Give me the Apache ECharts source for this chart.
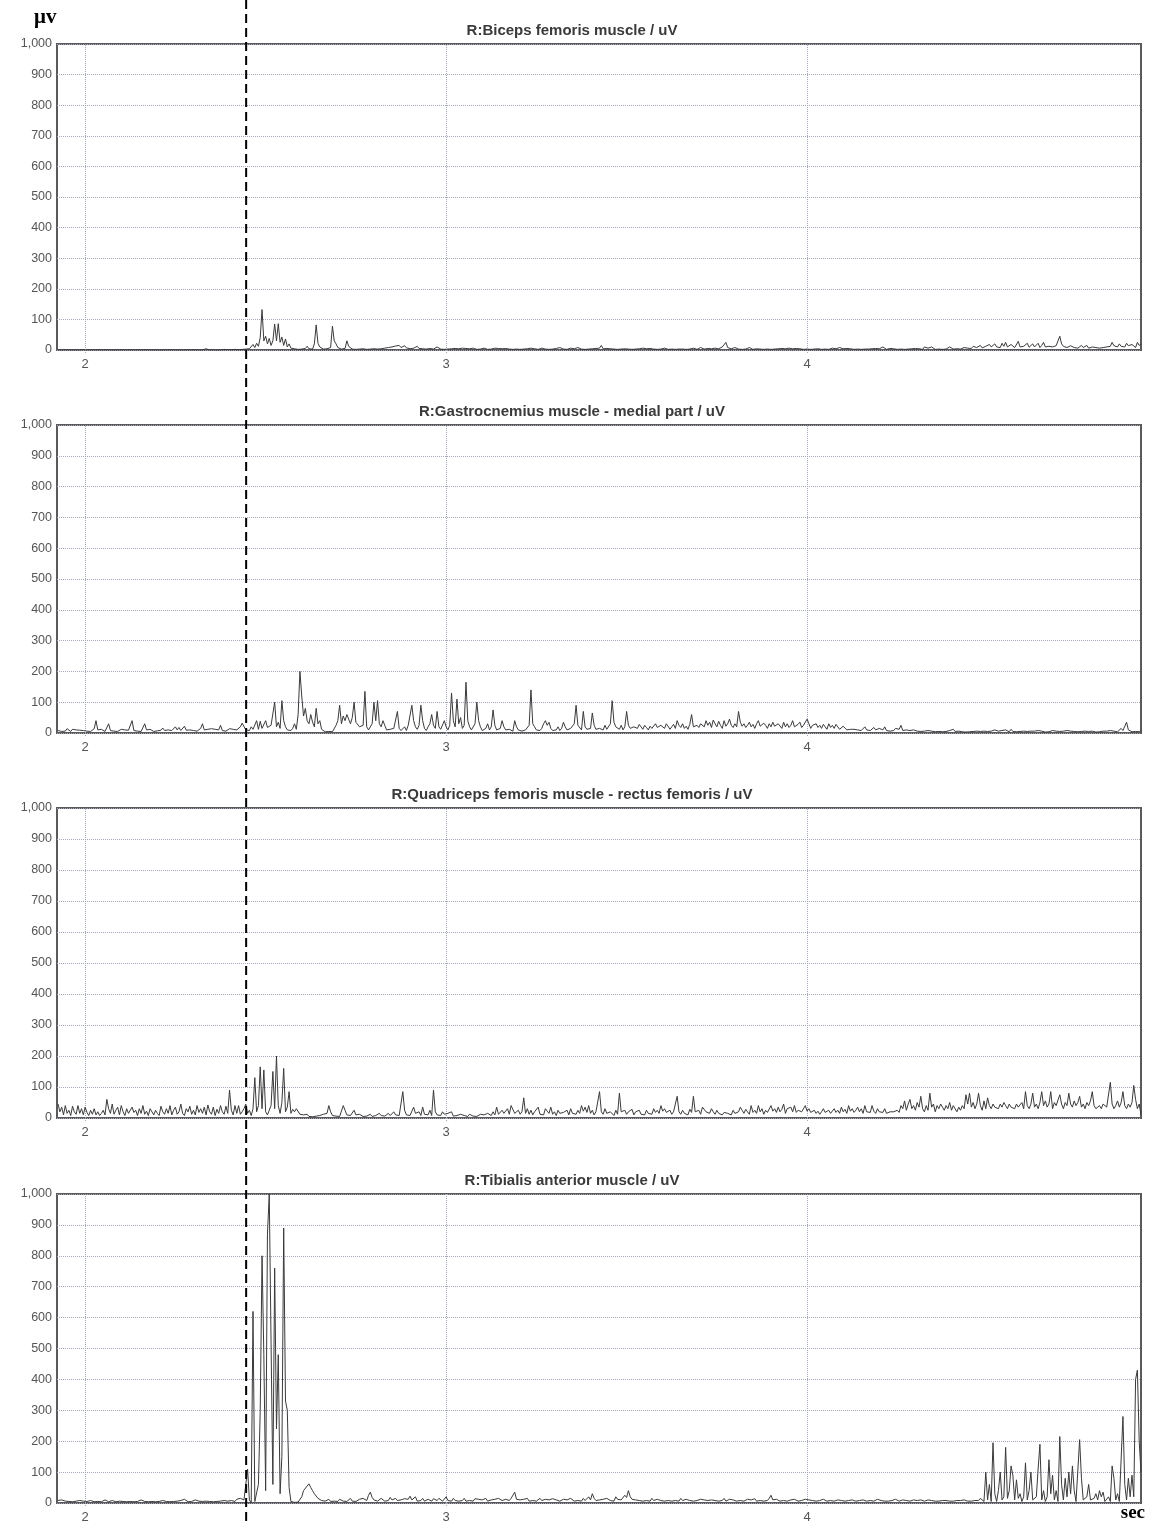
<!DOCTYPE html>
<html>
<head>
<meta charset="utf-8">
<script src="https://cdn.jsdelivr.net/npm/echarts@6/dist/echarts.min.js"></script>
<style>
  html, body { margin: 0; padding: 0; background: #ffffff; }
  #chart { width: 1152px; height: 1524px; }
</style>
</head>
<body>
<div id="chart"></div>
<script>
// EMG amplitude (uV), one sample every 5 ms starting at 1.925 s
const sampleStart = 1.925;
const sampleStep = 0.005;
const onsetTime = 2.446;          // stimulus / heel-strike marker (s)
const xTicks = [2, 3, 4];
const yTicks = [0, 100, 200, 300, 400, 500, 600, 700, 800, 900, 1000];

const panelTitles = [
  'R:Biceps femoris muscle / uV',
  'R:Gastrocnemius muscle - medial part / uV',
  'R:Quadriceps femoris muscle - rectus femoris / uV',
  'R:Tibialis anterior muscle / uV'
];

const bicepsFemoris = [
  0,1,0,0,1,0,0,1,0,0,0,1,0,0,1,0,0,0,1,0,
  0,0,1,0,0,0,1,0,0,1,0,0,0,1,0,0,1,0,0,0,
  1,0,0,0,1,0,0,0,1,0,0,1,0,0,0,1,0,0,0,1,
  0,0,1,0,0,1,0,0,0,1,0,0,1,0,0,0,1,0,0,1,
  0,2,4,2,0,1,0,2,0,1,0,1,2,0,1,0,1,0,2,1,
  1,0,2,1,3,6,4,10,18,8,22,12,40,132,30,45,20,38,15,30,
  85,30,86,25,42,15,36,10,20,6,8,4,3,2,4,3,2,5,12,4,
  6,3,20,82,22,10,5,3,6,4,2,8,78,30,20,8,4,3,2,5,
  30,12,6,3,4,2,6,3,2,4,3,2,5,3,2,4,2,3,5,4,
  10,6,12,8,14,10,6,13,9,15,8,12,14,7,5,4,3,6,4,12,
  5,3,4,6,3,2,5,4,3,6,10,4,3,5,2,4,3,6,4,3,
  5,3,4,2,6,3,5,2,4,3,6,4,2,5,3,4,6,3,2,5,
  3,4,6,2,5,3,4,2,5,8,3,4,2,6,3,5,2,4,3,5,
  4,2,6,3,4,5,2,3,6,4,3,5,2,4,3,6,5,3,8,4,
  3,5,2,4,6,3,4,2,8,4,3,5,2,4,3,6,4,2,5,3,
  6,15,4,3,5,2,4,6,3,5,2,4,3,6,4,8,3,5,2,4,
  3,5,4,2,6,3,4,3,5,8,3,4,2,5,3,4,6,3,2,4,
  3,5,2,4,3,6,3,4,2,5,3,4,6,3,2,5,8,4,3,2,
  5,3,4,2,6,3,4,5,10,6,25,8,10,4,3,8,5,3,4,2,
  5,3,4,8,3,2,5,4,6,3,4,2,5,3,4,2,6,3,8,4,
  3,5,2,4,3,6,2,4,3,5,2,4,3,2,4,3,5,2,4,3,
  2,4,3,2,5,3,4,2,3,6,10,4,3,8,2,4,3,5,2,4,
  3,2,4,3,5,2,4,3,6,3,2,4,3,5,2,4,3,10,4,2,
  3,5,2,4,3,2,8,3,4,2,5,3,2,4,3,5,2,4,3,2,
  10,4,6,3,10,4,2,5,3,4,2,8,3,4,10,5,3,2,4,6,
  3,5,8,4,6,10,5,12,6,8,10,15,7,9,12,8,18,10,8,20,
  10,14,8,22,12,25,10,8,18,12,8,14,28,10,8,12,15,22,9,14,
  20,10,12,22,8,15,25,10,8,12,6,10,8,14,10,45,20,12,15,8,
  10,14,20,8,10,6,12,15,8,10,15,6,12,10,5,8,10,6,12,8,
  6,10,8,12,25,14,8,10,20,12,8,10,22,14,10,18,12,8,25,15,
  20
];

const gastrocnemius = [
  8,12,5,10,6,14,8,5,12,7,10,6,9,4,8,12,6,10,5,8,
  14,40,10,6,12,8,5,10,30,8,12,6,10,5,8,12,7,10,6,9,
  12,40,8,10,6,12,5,9,30,10,6,12,8,5,10,7,12,9,16,8,
  6,10,14,8,12,20,10,18,8,12,22,9,6,10,14,8,12,6,10,15,
  30,10,8,12,6,14,9,12,8,10,25,8,12,6,10,14,8,12,18,10,
  12,20,32,28,10,15,8,20,12,10,40,12,38,15,10,40,18,12,25,30,
  100,20,35,15,105,40,20,10,6,8,15,30,12,60,200,120,55,80,40,30,
  60,35,20,80,30,40,12,6,4,3,5,3,4,6,25,40,90,30,55,40,
  60,45,30,50,100,35,40,20,15,25,135,20,10,15,30,100,40,105,30,20,
  40,25,10,8,12,6,15,20,70,15,8,10,20,8,25,30,90,40,20,12,
  25,90,40,15,8,20,30,60,25,15,70,20,12,8,40,20,10,25,130,40,
  20,110,30,50,15,25,165,40,20,10,15,30,100,40,20,8,12,15,30,10,
  20,75,25,10,8,15,40,20,10,8,12,15,6,40,20,10,8,6,12,10,
  15,25,140,30,20,10,12,8,15,30,40,25,35,15,8,12,10,20,8,15,
  35,20,10,8,15,12,30,90,25,20,10,70,20,12,8,15,65,25,12,8,
  15,20,10,25,12,8,30,105,35,20,15,12,25,10,20,70,25,15,10,20,
  25,15,28,20,12,25,18,10,22,15,20,30,18,12,25,20,15,30,22,12,
  20,28,15,40,25,18,30,15,22,12,28,60,20,15,25,18,30,35,20,40,
  25,35,18,42,30,20,38,25,15,40,22,30,45,25,18,30,20,70,35,22,
  30,18,25,35,20,28,15,30,40,22,18,32,25,15,30,20,35,22,18,30,
  25,15,35,20,30,18,25,40,20,15,28,35,18,25,22,45,30,15,25,20,
  30,18,25,15,28,20,12,30,18,25,15,28,20,12,15,22,18,10,15,12,
  8,12,18,10,15,8,12,20,10,15,8,12,18,10,8,15,12,10,20,8,
  12,6,10,8,15,10,12,25,8,6,10,5,8,6,10,4,6,8,5,10,
  6,4,8,5,6,10,4,6,5,8,4,6,5,4,8,6,12,5,4,6,
  5,4,6,3,5,4,8,5,3,6,4,5,3,6,4,5,8,6,4,10,
  15,6,4,8,5,10,6,4,12,5,6,4,10,5,8,6,4,5,8,6,
  4,6,5,8,4,6,5,3,6,4,5,8,4,6,3,5,4,6,5,8,
  12,6,12,5,8,4,6,5,4,6,8,5,4,6,5,3,6,4,5,6,
  4,6,5,8,4,6,5,4,6,15,8,6,35,10,6,4,8,5,6,4,
  10
];

const quadriceps = [
  45,20,35,10,40,15,25,8,38,20,12,40,15,30,10,35,18,8,25,12,
  30,10,20,8,15,25,10,60,30,15,45,12,25,35,10,40,20,8,30,15,
  10,35,18,25,8,30,15,40,12,22,8,30,35,10,25,15,8,38,20,12,
  30,15,40,10,25,35,12,20,45,15,8,30,20,38,12,25,10,40,18,30,
  15,35,10,42,20,12,35,8,28,15,40,20,12,38,15,90,25,10,40,15,
  40,12,20,30,45,15,25,8,30,130,20,40,165,30,155,20,10,25,40,150,
  30,200,40,15,50,160,20,35,85,15,28,20,30,25,12,8,10,6,12,5,
  8,4,10,6,5,8,4,12,6,15,40,20,8,12,6,10,5,8,40,25,
  10,15,8,12,25,10,6,12,8,5,10,6,8,12,5,10,8,6,15,8,
  12,6,10,15,8,12,20,10,15,8,12,85,25,10,15,8,12,35,15,10,
  20,8,35,12,15,10,25,8,90,20,10,15,8,20,12,8,15,10,20,6,
  10,8,5,12,6,8,10,5,12,8,6,10,5,8,12,6,10,8,15,10,
  8,20,10,35,12,8,25,15,10,30,12,40,38,15,10,25,12,20,65,15,
  30,12,25,10,20,15,35,12,18,10,30,22,15,35,12,20,8,25,15,10,
  18,12,25,10,30,15,20,12,25,15,40,22,35,18,40,15,25,10,20,15,
  85,20,12,30,15,10,20,15,8,25,12,80,20,15,25,12,20,15,28,10,
  20,15,25,12,18,10,25,15,20,12,30,18,25,15,40,22,30,18,15,25,
  12,20,15,70,20,12,25,15,20,10,28,18,70,20,15,25,12,35,30,20,
  25,15,30,20,12,25,15,20,10,18,12,15,20,10,25,15,12,20,35,25,
  15,28,20,12,40,18,25,15,40,20,30,12,25,18,15,40,22,30,18,35,
  20,28,45,15,30,25,35,20,40,18,25,30,20,15,40,22,30,18,12,25,
  15,22,12,20,30,18,12,25,15,20,30,18,25,15,35,20,28,15,40,22,
  30,18,25,35,20,30,15,40,20,25,18,40,22,15,30,20,25,18,30,15,
  12,20,18,20,15,25,18,40,30,55,25,45,60,30,40,25,50,35,70,30,
  20,40,25,80,35,45,20,40,30,45,35,25,40,30,50,25,40,30,20,35,
  25,40,30,75,45,80,35,50,30,45,80,40,25,55,30,65,40,30,45,35,
  40,30,45,35,50,40,30,45,35,40,30,45,35,40,50,30,85,40,30,45,
  80,35,45,30,50,85,40,55,35,45,85,30,50,40,35,75,45,30,50,40,
  80,45,35,55,40,50,70,35,45,30,50,40,55,85,40,30,35,40,30,45,
  50,35,40,115,45,30,40,55,35,50,85,40,30,45,35,50,105,60,30,45,
  10
];

const tibialisAnterior = [
  8,5,10,4,6,12,5,8,4,10,6,5,8,4,6,10,5,4,8,6,
  4,6,5,8,4,6,10,5,4,6,8,5,4,10,6,4,5,8,4,6,
  5,8,4,6,5,4,10,6,5,8,4,6,5,8,4,6,5,4,8,12,
  5,6,4,8,5,10,6,4,8,5,12,6,4,8,5,6,10,4,6,8,
  5,4,6,12,5,8,4,6,5,10,6,4,8,5,6,4,8,10,5,12,
  8,15,20,10,5,110,10,0,620,5,0,60,300,800,480,40,870,1000,520,60,
  760,240,480,30,150,890,330,300,50,5,3,2,4,3,5,20,40,45,55,62,
  50,40,30,25,15,12,8,10,6,8,12,5,8,6,10,5,12,8,6,10,
  5,8,15,6,10,5,8,12,6,15,10,8,25,35,18,10,12,6,8,15,
  10,6,12,8,18,10,6,15,8,12,10,6,14,8,12,22,10,8,20,6,
  12,8,15,6,10,12,8,6,14,10,8,15,12,6,10,20,8,12,6,15,
  8,12,6,10,8,15,6,12,8,10,6,14,8,12,6,10,8,15,6,12,
  10,8,12,6,15,10,8,6,12,10,8,15,20,35,12,8,10,6,12,8,
  15,6,10,8,12,6,10,15,8,6,12,8,10,6,14,8,10,12,6,8,
  12,6,10,8,15,10,6,12,8,10,6,15,8,12,20,10,30,15,8,12,
  10,6,12,8,15,12,8,10,6,20,12,8,10,15,25,18,40,20,12,8,
  10,15,8,12,6,10,8,12,6,15,8,10,12,6,8,10,6,12,8,10,
  6,12,8,10,6,15,8,10,12,6,8,12,6,10,8,6,12,8,10,6,
  8,12,10,6,8,12,6,10,8,15,6,8,12,6,10,8,6,12,8,10,
  6,8,12,6,10,8,14,6,10,8,12,6,10,8,15,25,10,6,12,8,
  6,10,8,12,6,8,10,6,12,8,6,10,8,6,12,8,10,6,8,12,
  6,10,8,6,12,8,6,10,8,12,6,8,10,6,8,12,6,10,8,6,
  10,8,6,12,8,6,10,8,6,12,8,10,6,8,12,6,8,10,6,8,
  6,10,8,6,12,8,6,8,10,6,8,12,6,8,10,6,8,6,10,8,
  6,8,10,6,8,12,6,8,6,10,8,6,8,10,6,8,6,10,8,6,
  8,6,10,8,6,8,6,10,8,6,8,15,10,5,100,10,60,5,195,30,
  5,40,100,10,20,180,15,40,120,90,10,75,15,30,5,20,130,10,40,100,
  10,5,20,110,190,10,40,5,20,140,30,90,10,40,5,215,60,10,80,20,
  100,30,120,40,5,10,205,80,10,5,20,60,10,5,15,30,10,40,20,35,
  5,10,20,5,120,80,10,30,5,10,280,60,10,80,20,90,20,400,430,200,
  100
];

const channels = [bicepsFemoris, gastrocnemius, quadriceps, tibialisAnterior];

// panel placement (pixels)
const panelLayout = [
  { top: 44, height: 306 },
  { top: 425, height: 308 },
  { top: 808, height: 310 },
  { top: 1194, height: 309 }
];
const plotLeft = 57, plotWidth = 1084;
const xMin = 1.922, xMax = 4.925;

const fontSans = '"Liberation Sans", Arial, sans-serif';
const fontSerif = '"Liberation Serif", "Times New Roman", serif';
const gridLineColor = '#a3a7ba';

const chart = echarts.init(document.getElementById('chart'), null, { renderer: 'canvas' });

const grids = [], xAxes = [], yAxes = [], series = [], graphics = [];

panelLayout.forEach((p, k) => {
  grids.push({
    left: plotLeft, width: plotWidth, top: p.top, height: p.height,
    show: true, backgroundColor: '#ffffff',
    borderColor: '#5a5a5a', borderWidth: 2, containLabel: false
  });
  xAxes.push({
    type: 'value', gridIndex: k, min: xMin, max: xMax,
    axisLine: { show: false },
    axisTick: { show: true, customValues: xTicks, length: 4, inside: false,
                lineStyle: { color: gridLineColor, type: 'dotted' } },
    axisLabel: { customValues: xTicks, color: '#555', fontSize: 13,
                 fontFamily: fontSans, margin: 8 },
    splitLine: { show: false }
  });
  yAxes.push({
    type: 'value', gridIndex: k, min: 0, max: 1000, interval: 100,
    axisLine: { show: false },
    axisTick: { show: false },
    axisLabel: { color: '#555', fontSize: 12.5, fontFamily: fontSans, margin: 5,
                 formatter: v => v.toLocaleString('en-US') },
    splitLine: { show: true, lineStyle: { color: gridLineColor, type: 'dotted', width: 1 } }
  });
  const values = channels[k];
  series.push({
    type: 'line', xAxisIndex: k, yAxisIndex: k,
    data: values.map((v, i) => [sampleStart + i * sampleStep, v]),
    showSymbol: false, symbol: 'none', sampling: false,
    lineStyle: { color: '#3a3a3a', width: 1 },
    z: 3,
    markLine: {
      silent: true, symbol: 'none', label: { show: false },
      lineStyle: { color: gridLineColor, type: 'dotted', width: 1 },
      data: xTicks.map(t => ({ xAxis: t })),
      z: 1
    }
  });
  graphics.push({
    type: 'text', x: 572, y: p.top - 13,
    style: { text: panelTitles[k], fill: '#3a3a3a', font: 'bold 15px ' + fontSans,
             textAlign: 'center', textVerticalAlign: 'middle' }
  });
});

graphics.push({
  type: 'text', x: 34, y: 18,
  style: { text: 'μv', fill: '#000', font: 'bold 21px ' + fontSerif,
           textAlign: 'left', textVerticalAlign: 'middle' }
});
graphics.push({
  type: 'text', x: 1145, y: 1513,
  style: { text: 'sec', fill: '#000', font: 'bold 19px ' + fontSerif,
           textAlign: 'right', textVerticalAlign: 'middle' }
});

chart.setOption({
  animation: false,
  backgroundColor: '#ffffff',
  grid: grids, xAxis: xAxes, yAxis: yAxes, series: series,
  graphic: graphics
});

// dashed onset marker crossing all four panels
const onsetX = chart.convertToPixel({ xAxisIndex: 0 }, onsetTime);
chart.setOption({
  graphic: graphics.concat([{
    type: 'line', z: 100,
    shape: { x1: onsetX, y1: 0, x2: onsetX, y2: 1524 },
    style: { stroke: '#000', lineWidth: 2, lineDash: [9, 5] }
  }])
});
</script>
</body>
</html>
